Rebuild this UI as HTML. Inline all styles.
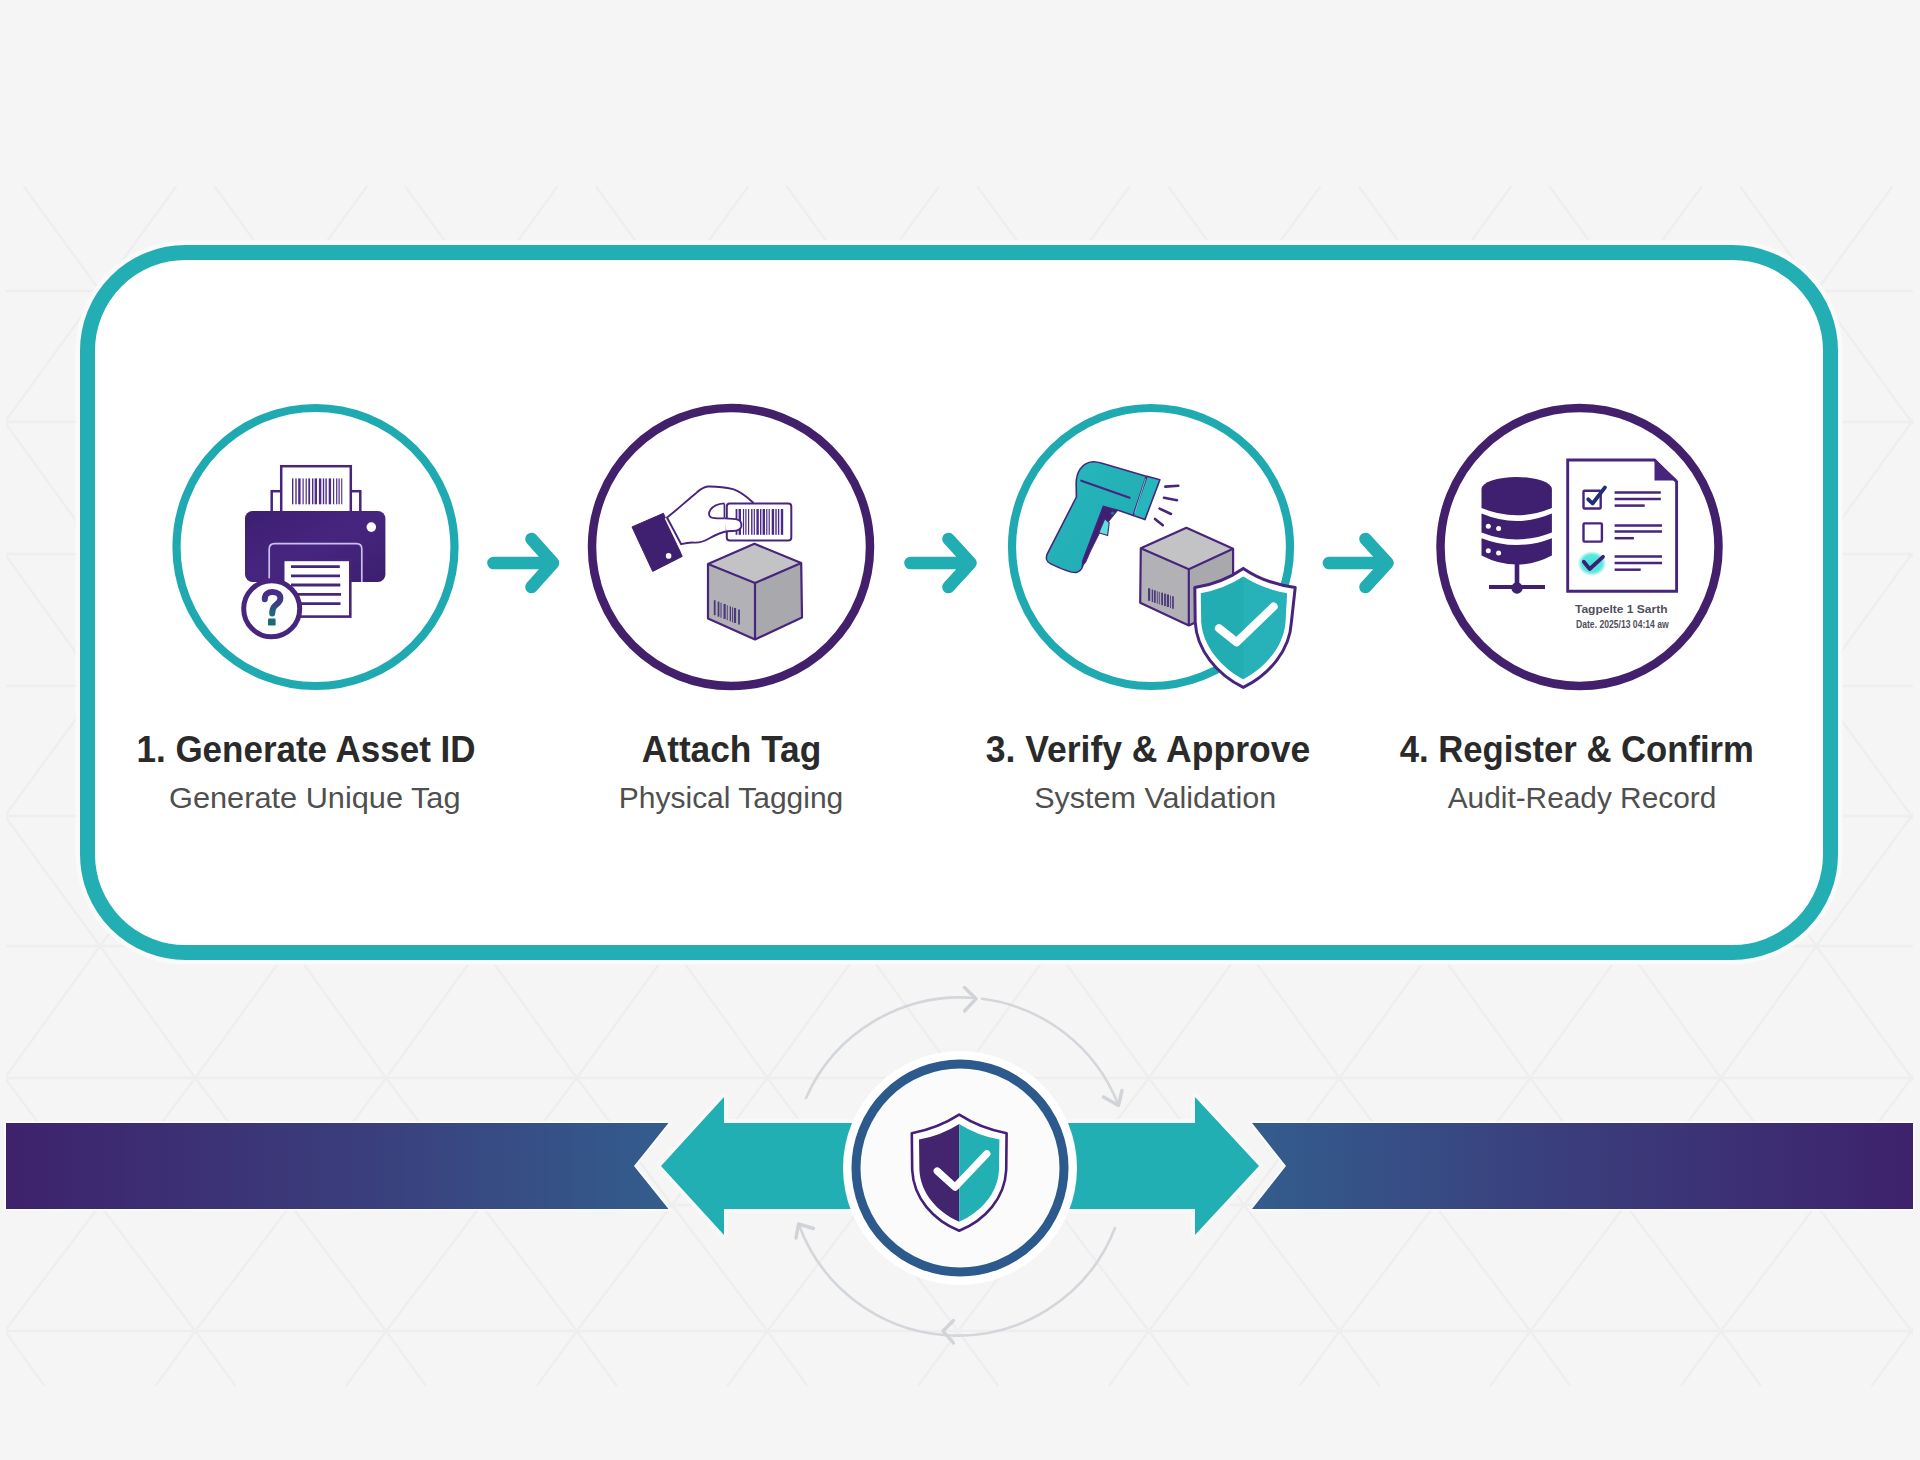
<!DOCTYPE html>
<html>
<head>
<meta charset="utf-8">
<style>
html,body{margin:0;padding:0;}
body{width:1920px;height:1460px;background:#f5f5f5;overflow:hidden;position:relative;font-family:"Liberation Sans",sans-serif;}
svg{position:absolute;left:0;top:0;}
</style>
</head>
<body>
<svg width="1920" height="1460" viewBox="0 0 1920 1460">
<defs>
  <clipPath id="patclip"><rect x="0" y="186" width="1920" height="1199"/></clipPath>
  <linearGradient id="barL" x1="0" y1="0" x2="1" y2="0">
    <stop offset="0" stop-color="#3e226b"/>
    <stop offset="0.55" stop-color="#3a3f7c"/>
    <stop offset="1" stop-color="#335d8d"/>
  </linearGradient>
  <linearGradient id="barR" x1="0" y1="0" x2="1" y2="0">
    <stop offset="0" stop-color="#335d8d"/>
    <stop offset="0.45" stop-color="#3a3f7c"/>
    <stop offset="1" stop-color="#3e226b"/>
  </linearGradient>
</defs>

<!-- background triangle pattern -->
<defs><filter id="pblur" x="0" y="0" width="1" height="1"><feGaussianBlur stdDeviation="0.6"/></filter><clipPath id="pc1"><rect x="6" y="186" width="1907" height="368.5"/></clipPath><clipPath id="pc2"><rect x="6" y="554" width="1907" height="832"/></clipPath></defs><g fill="none" stroke="#eeeeee" stroke-width="2.4" filter="url(#pblur)"><path clip-path="url(#pc1)" d="M-472.1 291.0L-376.7 422.0 M-472.1 291.0L-567.4 422.0 M-281.4 291.0L-186.0 422.0 M-281.4 291.0L-376.8 422.0 M-90.7 291.0L4.7 422.0 M-90.7 291.0L-186.0 422.0 M100.0 291.0L195.3 422.0 M100.0 291.0L4.7 422.0 M290.7 291.0L386.0 422.0 M290.7 291.0L195.3 422.0 M481.4 291.0L576.8 422.0 M481.4 291.0L386.1 422.0 M672.1 291.0L767.4 422.0 M672.1 291.0L576.8 422.0 M862.8 291.0L958.1 422.0 M862.8 291.0L767.5 422.0 M1053.5 291.0L1148.8 422.0 M1053.5 291.0L958.1 422.0 M1244.2 291.0L1339.5 422.0 M1244.2 291.0L1148.8 422.0 M1434.9 291.0L1530.2 422.0 M1434.9 291.0L1339.5 422.0 M1625.6 291.0L1720.9 422.0 M1625.6 291.0L1530.2 422.0 M1816.3 291.0L1911.6 422.0 M1816.3 291.0L1720.9 422.0 M2007.0 291.0L2102.3 422.0 M2007.0 291.0L1911.6 422.0 M2197.7 291.0L2293.0 422.0 M2197.7 291.0L2102.3 422.0 M2388.4 291.0L2483.7 422.0 M2388.4 291.0L2293.0 422.0 M2579.1 291.0L2674.4 422.0 M2579.1 291.0L2483.8 422.0 M-376.7 422.0L-281.4 554.0 M-376.7 422.0L-472.1 554.0 M-186.0 422.0L-90.7 554.0 M-186.0 422.0L-281.4 554.0 M4.7 422.0L100.0 554.0 M4.7 422.0L-90.7 554.0 M195.3 422.0L290.7 554.0 M195.3 422.0L100.0 554.0 M386.0 422.0L481.4 554.0 M386.0 422.0L290.7 554.0 M576.8 422.0L672.1 554.0 M576.8 422.0L481.4 554.0 M767.4 422.0L862.8 554.0 M767.4 422.0L672.1 554.0 M958.1 422.0L1053.5 554.0 M958.1 422.0L862.8 554.0 M1148.8 422.0L1244.2 554.0 M1148.8 422.0L1053.5 554.0 M1339.5 422.0L1434.9 554.0 M1339.5 422.0L1244.2 554.0 M1530.2 422.0L1625.6 554.0 M1530.2 422.0L1434.9 554.0 M1720.9 422.0L1816.3 554.0 M1720.9 422.0L1625.6 554.0 M1911.6 422.0L2007.0 554.0 M1911.6 422.0L1816.3 554.0 M2102.3 422.0L2197.7 554.0 M2102.3 422.0L2007.0 554.0 M2293.0 422.0L2388.4 554.0 M2293.0 422.0L2197.7 554.0 M2483.7 422.0L2579.1 554.0 M2483.7 422.0L2388.4 554.0 M2674.4 422.0L2769.8 554.0 M2674.4 422.0L2579.1 554.0 M-472.1 291.0L-548.5 186.0 M-472.1 291.0L-395.7 186.0 M-281.4 291.0L-357.8 186.0 M-281.4 291.0L-205.0 186.0 M-90.7 291.0L-167.1 186.0 M-90.7 291.0L-14.3 186.0 M100.0 291.0L23.6 186.0 M100.0 291.0L176.4 186.0 M290.7 291.0L214.3 186.0 M290.7 291.0L367.1 186.0 M481.4 291.0L405.0 186.0 M481.4 291.0L557.8 186.0 M672.1 291.0L595.7 186.0 M672.1 291.0L748.5 186.0 M862.8 291.0L786.4 186.0 M862.8 291.0L939.2 186.0 M1053.5 291.0L977.1 186.0 M1053.5 291.0L1129.9 186.0 M1244.2 291.0L1167.8 186.0 M1244.2 291.0L1320.6 186.0 M1434.9 291.0L1358.5 186.0 M1434.9 291.0L1511.3 186.0 M1625.6 291.0L1549.2 186.0 M1625.6 291.0L1702.0 186.0 M1816.3 291.0L1739.9 186.0 M1816.3 291.0L1892.7 186.0 M2007.0 291.0L1930.6 186.0 M2007.0 291.0L2083.4 186.0 M2197.7 291.0L2121.3 186.0 M2197.7 291.0L2274.1 186.0 M2388.4 291.0L2312.0 186.0 M2388.4 291.0L2464.8 186.0 M2579.1 291.0L2502.7 186.0 M2579.1 291.0L2655.5 186.0"/><path clip-path="url(#pc2)" d="M-376.7 554.0L-281.4 686.0 M-376.7 554.0L-472.1 686.0 M-186.0 554.0L-90.7 686.0 M-186.0 554.0L-281.4 686.0 M4.7 554.0L100.0 686.0 M4.7 554.0L-90.7 686.0 M195.3 554.0L290.7 686.0 M195.3 554.0L100.0 686.0 M386.0 554.0L481.4 686.0 M386.0 554.0L290.7 686.0 M576.8 554.0L672.1 686.0 M576.8 554.0L481.4 686.0 M767.4 554.0L862.8 686.0 M767.4 554.0L672.1 686.0 M958.1 554.0L1053.5 686.0 M958.1 554.0L862.8 686.0 M1148.8 554.0L1244.2 686.0 M1148.8 554.0L1053.5 686.0 M1339.5 554.0L1434.9 686.0 M1339.5 554.0L1244.2 686.0 M1530.2 554.0L1625.6 686.0 M1530.2 554.0L1434.9 686.0 M1720.9 554.0L1816.3 686.0 M1720.9 554.0L1625.6 686.0 M1911.6 554.0L2007.0 686.0 M1911.6 554.0L1816.3 686.0 M2102.3 554.0L2197.7 686.0 M2102.3 554.0L2007.0 686.0 M2293.0 554.0L2388.4 686.0 M2293.0 554.0L2197.7 686.0 M2483.7 554.0L2579.1 686.0 M2483.7 554.0L2388.4 686.0 M2674.4 554.0L2769.8 686.0 M2674.4 554.0L2579.1 686.0 M-472.1 686.0L-376.7 816.0 M-472.1 686.0L-567.4 816.0 M-281.4 686.0L-186.0 816.0 M-281.4 686.0L-376.8 816.0 M-90.7 686.0L4.7 816.0 M-90.7 686.0L-186.0 816.0 M100.0 686.0L195.3 816.0 M100.0 686.0L4.7 816.0 M290.7 686.0L386.0 816.0 M290.7 686.0L195.3 816.0 M481.4 686.0L576.8 816.0 M481.4 686.0L386.1 816.0 M672.1 686.0L767.4 816.0 M672.1 686.0L576.8 816.0 M862.8 686.0L958.1 816.0 M862.8 686.0L767.5 816.0 M1053.5 686.0L1148.8 816.0 M1053.5 686.0L958.1 816.0 M1244.2 686.0L1339.5 816.0 M1244.2 686.0L1148.8 816.0 M1434.9 686.0L1530.2 816.0 M1434.9 686.0L1339.5 816.0 M1625.6 686.0L1720.9 816.0 M1625.6 686.0L1530.2 816.0 M1816.3 686.0L1911.6 816.0 M1816.3 686.0L1720.9 816.0 M2007.0 686.0L2102.3 816.0 M2007.0 686.0L1911.6 816.0 M2197.7 686.0L2293.0 816.0 M2197.7 686.0L2102.3 816.0 M2388.4 686.0L2483.7 816.0 M2388.4 686.0L2293.0 816.0 M2579.1 686.0L2674.4 816.0 M2579.1 686.0L2483.8 816.0 M-376.7 816.0L-281.4 946.0 M-376.7 816.0L-472.1 946.0 M-186.0 816.0L-90.7 946.0 M-186.0 816.0L-281.4 946.0 M4.7 816.0L100.0 946.0 M4.7 816.0L-90.7 946.0 M195.3 816.0L290.7 946.0 M195.3 816.0L100.0 946.0 M386.0 816.0L481.4 946.0 M386.0 816.0L290.7 946.0 M576.8 816.0L672.1 946.0 M576.8 816.0L481.4 946.0 M767.4 816.0L862.8 946.0 M767.4 816.0L672.1 946.0 M958.1 816.0L1053.5 946.0 M958.1 816.0L862.8 946.0 M1148.8 816.0L1244.2 946.0 M1148.8 816.0L1053.5 946.0 M1339.5 816.0L1434.9 946.0 M1339.5 816.0L1244.2 946.0 M1530.2 816.0L1625.6 946.0 M1530.2 816.0L1434.9 946.0 M1720.9 816.0L1816.3 946.0 M1720.9 816.0L1625.6 946.0 M1911.6 816.0L2007.0 946.0 M1911.6 816.0L1816.3 946.0 M2102.3 816.0L2197.7 946.0 M2102.3 816.0L2007.0 946.0 M2293.0 816.0L2388.4 946.0 M2293.0 816.0L2197.7 946.0 M2483.7 816.0L2579.1 946.0 M2483.7 816.0L2388.4 946.0 M2674.4 816.0L2769.8 946.0 M2674.4 816.0L2579.1 946.0 M-472.1 946.0L-376.7 1078.0 M-472.1 946.0L-567.4 1078.0 M-281.4 946.0L-186.0 1078.0 M-281.4 946.0L-376.8 1078.0 M-90.7 946.0L4.7 1078.0 M-90.7 946.0L-186.0 1078.0 M100.0 946.0L195.3 1078.0 M100.0 946.0L4.7 1078.0 M290.7 946.0L386.0 1078.0 M290.7 946.0L195.3 1078.0 M481.4 946.0L576.8 1078.0 M481.4 946.0L386.1 1078.0 M672.1 946.0L767.4 1078.0 M672.1 946.0L576.8 1078.0 M862.8 946.0L958.1 1078.0 M862.8 946.0L767.5 1078.0 M1053.5 946.0L1148.8 1078.0 M1053.5 946.0L958.1 1078.0 M1244.2 946.0L1339.5 1078.0 M1244.2 946.0L1148.8 1078.0 M1434.9 946.0L1530.2 1078.0 M1434.9 946.0L1339.5 1078.0 M1625.6 946.0L1720.9 1078.0 M1625.6 946.0L1530.2 1078.0 M1816.3 946.0L1911.6 1078.0 M1816.3 946.0L1720.9 1078.0 M2007.0 946.0L2102.3 1078.0 M2007.0 946.0L1911.6 1078.0 M2197.7 946.0L2293.0 1078.0 M2197.7 946.0L2102.3 1078.0 M2388.4 946.0L2483.7 1078.0 M2388.4 946.0L2293.0 1078.0 M2579.1 946.0L2674.4 1078.0 M2579.1 946.0L2483.8 1078.0 M-376.7 1078.0L-281.4 1205.0 M-376.7 1078.0L-472.1 1205.0 M-186.0 1078.0L-90.7 1205.0 M-186.0 1078.0L-281.4 1205.0 M4.7 1078.0L100.0 1205.0 M4.7 1078.0L-90.7 1205.0 M195.3 1078.0L290.7 1205.0 M195.3 1078.0L100.0 1205.0 M386.0 1078.0L481.4 1205.0 M386.0 1078.0L290.7 1205.0 M576.8 1078.0L672.1 1205.0 M576.8 1078.0L481.4 1205.0 M767.4 1078.0L862.8 1205.0 M767.4 1078.0L672.1 1205.0 M958.1 1078.0L1053.5 1205.0 M958.1 1078.0L862.8 1205.0 M1148.8 1078.0L1244.2 1205.0 M1148.8 1078.0L1053.5 1205.0 M1339.5 1078.0L1434.9 1205.0 M1339.5 1078.0L1244.2 1205.0 M1530.2 1078.0L1625.6 1205.0 M1530.2 1078.0L1434.9 1205.0 M1720.9 1078.0L1816.3 1205.0 M1720.9 1078.0L1625.6 1205.0 M1911.6 1078.0L2007.0 1205.0 M1911.6 1078.0L1816.3 1205.0 M2102.3 1078.0L2197.7 1205.0 M2102.3 1078.0L2007.0 1205.0 M2293.0 1078.0L2388.4 1205.0 M2293.0 1078.0L2197.7 1205.0 M2483.7 1078.0L2579.1 1205.0 M2483.7 1078.0L2388.4 1205.0 M2674.4 1078.0L2769.8 1205.0 M2674.4 1078.0L2579.1 1205.0 M-472.1 1205.0L-376.7 1331.0 M-472.1 1205.0L-567.4 1331.0 M-281.4 1205.0L-186.0 1331.0 M-281.4 1205.0L-376.8 1331.0 M-90.7 1205.0L4.7 1331.0 M-90.7 1205.0L-186.0 1331.0 M100.0 1205.0L195.3 1331.0 M100.0 1205.0L4.7 1331.0 M290.7 1205.0L386.0 1331.0 M290.7 1205.0L195.3 1331.0 M481.4 1205.0L576.8 1331.0 M481.4 1205.0L386.1 1331.0 M672.1 1205.0L767.4 1331.0 M672.1 1205.0L576.8 1331.0 M862.8 1205.0L958.1 1331.0 M862.8 1205.0L767.5 1331.0 M1053.5 1205.0L1148.8 1331.0 M1053.5 1205.0L958.1 1331.0 M1244.2 1205.0L1339.5 1331.0 M1244.2 1205.0L1148.8 1331.0 M1434.9 1205.0L1530.2 1331.0 M1434.9 1205.0L1339.5 1331.0 M1625.6 1205.0L1720.9 1331.0 M1625.6 1205.0L1530.2 1331.0 M1816.3 1205.0L1911.6 1331.0 M1816.3 1205.0L1720.9 1331.0 M2007.0 1205.0L2102.3 1331.0 M2007.0 1205.0L1911.6 1331.0 M2197.7 1205.0L2293.0 1331.0 M2197.7 1205.0L2102.3 1331.0 M2388.4 1205.0L2483.7 1331.0 M2388.4 1205.0L2293.0 1331.0 M2579.1 1205.0L2674.4 1331.0 M2579.1 1205.0L2483.8 1331.0 M-376.7 1331.0L-416.8 1386.0 M-376.7 1331.0L-336.7 1386.0 M-186.0 1331.0L-226.1 1386.0 M-186.0 1331.0L-146.0 1386.0 M4.7 1331.0L-35.4 1386.0 M4.7 1331.0L44.7 1386.0 M195.3 1331.0L155.3 1386.0 M195.3 1331.0L235.4 1386.0 M386.0 1331.0L346.0 1386.0 M386.0 1331.0L426.1 1386.0 M576.8 1331.0L536.7 1386.0 M576.8 1331.0L616.8 1386.0 M767.4 1331.0L727.4 1386.0 M767.4 1331.0L807.5 1386.0 M958.1 1331.0L918.1 1386.0 M958.1 1331.0L998.2 1386.0 M1148.8 1331.0L1108.8 1386.0 M1148.8 1331.0L1188.9 1386.0 M1339.5 1331.0L1299.5 1386.0 M1339.5 1331.0L1379.6 1386.0 M1530.2 1331.0L1490.2 1386.0 M1530.2 1331.0L1570.3 1386.0 M1720.9 1331.0L1680.9 1386.0 M1720.9 1331.0L1761.0 1386.0 M1911.6 1331.0L1871.6 1386.0 M1911.6 1331.0L1951.7 1386.0 M2102.3 1331.0L2062.3 1386.0 M2102.3 1331.0L2142.4 1386.0 M2293.0 1331.0L2253.0 1386.0 M2293.0 1331.0L2333.1 1386.0 M2483.7 1331.0L2443.7 1386.0 M2483.7 1331.0L2523.8 1386.0 M2674.4 1331.0L2634.4 1386.0 M2674.4 1331.0L2714.5 1386.0"/><path d="M6 291H1913 M6 422H1913 M6 554H1913 M6 686H1913 M6 816H1913 M6 946H1913 M6 1078H1913 M6 1205H1913 M6 1331H1913"/></g>

<!-- main card -->
<rect x="87.5" y="252.5" width="1743" height="700" rx="98" ry="98" fill="#ffffff" stroke="#fafafa" stroke-width="24"/>
<rect x="87.5" y="252.5" width="1743" height="700" rx="98" ry="98" fill="#ffffff" stroke="#23aeb4" stroke-width="15"/>

<!-- step circles -->
<circle cx="315.5" cy="547" r="139" fill="#fff" stroke="#1fa9b1" stroke-width="8.2"/>
<circle cx="731" cy="547" r="139" fill="#fff" stroke="#43206c" stroke-width="8.5"/>
<circle cx="1151" cy="547" r="139" fill="#fff" stroke="#1fa9b1" stroke-width="8.2"/>
<circle cx="1579.5" cy="547" r="139" fill="#fff" stroke="#43206c" stroke-width="8.5"/>

<!-- arrows between steps -->
<g stroke="#22adb3" stroke-width="12.6" stroke-linecap="round" stroke-linejoin="round" fill="none">
  <path d="M493.5 563 H552 M531.5 539 L553 563 L531.5 587"/>
  <path d="M910.5 563 H970 M948.5 539 L970.5 563 L948.5 587"/>
  <path d="M1329 563 H1387 M1365.5 539 L1387.5 563 L1365.5 587"/>
</g>

<g id="ic1"><rect x="271.7" y="491.2" width="88.6" height="24" fill="#fff" stroke="#47257d" stroke-width="2.5"/><rect x="281.2" y="466.2" width="69.6" height="50" fill="#fff" stroke="#47257d" stroke-width="2.5"/><g fill="#4d2d88"><rect x="292.00" y="478.40" width="1.40" height="25.90"/><rect x="295.30" y="478.40" width="1.40" height="25.90"/><rect x="298.20" y="478.40" width="2.40" height="25.90"/><rect x="302.50" y="478.40" width="1.20" height="25.90"/><rect x="305.60" y="478.40" width="1.20" height="25.90"/><rect x="308.30" y="478.40" width="1.80" height="25.90"/><rect x="312.00" y="478.40" width="1.40" height="25.90"/><rect x="314.60" y="478.40" width="2.40" height="25.90"/><rect x="318.90" y="478.40" width="2.40" height="25.90"/><rect x="322.80" y="478.40" width="1.40" height="25.90"/><rect x="325.40" y="478.40" width="1.40" height="25.90"/><rect x="328.70" y="478.40" width="2.40" height="25.90"/><rect x="333.00" y="478.40" width="1.20" height="25.90"/><rect x="336.10" y="478.40" width="1.20" height="25.90"/><rect x="338.50" y="478.40" width="1.20" height="25.90"/><rect x="341.20" y="478.40" width="1.10" height="25.90"/></g><defs><linearGradient id="pg" x1="0" y1="0" x2="1" y2="1"><stop offset="0" stop-color="#3c1f70"/><stop offset="0.5" stop-color="#46257f"/><stop offset="1" stop-color="#3b1f6e"/></linearGradient></defs><rect x="245" y="511" width="140.4" height="71" rx="7.5" fill="url(#pg)"/><circle cx="371.3" cy="527.1" r="4.8" fill="#fff"/><path d="M269.2 582 V549 Q269.2 543.6 274.6 543.6 H356.4 Q361.8 543.6 361.8 549 V582" fill="none" stroke="#cbbfee" stroke-width="1.7"/><rect x="283.2" y="559.9" width="67.1" height="56.7" fill="#fff" stroke="#47257d" stroke-width="2.6"/><line x1="291" y1="566.6" x2="339.8" y2="566.6" stroke="#47257d" stroke-width="2.8"/><line x1="291" y1="575.8" x2="340" y2="575.8" stroke="#47257d" stroke-width="2.8"/><line x1="291" y1="585" x2="340.3" y2="585" stroke="#47257d" stroke-width="2.8"/><line x1="291" y1="594.3" x2="341" y2="594.3" stroke="#47257d" stroke-width="2.8"/><line x1="291" y1="603.6" x2="340.5" y2="603.6" stroke="#47257d" stroke-width="2.8"/><circle cx="271.7" cy="608.8" r="28" fill="#fff" stroke="#47257d" stroke-width="5"/><defs><linearGradient id="qg" x1="0" y1="0" x2="0" y2="1"><stop offset="0" stop-color="#4a2a86"/><stop offset="0.55" stop-color="#3c3f86"/><stop offset="1" stop-color="#1e6c78"/></linearGradient></defs><path d="M264.8 599.2 C264.6 594.2 268 591.9 272.6 591.9 C277.6 591.9 280.4 594.6 280.4 598.3 C280.4 602.2 277 604 274.8 605.9 C272.8 607.7 272.2 609.6 272.2 613.6" fill="none" stroke="url(#qg)" stroke-width="6" stroke-linecap="round" stroke-linejoin="round"/><rect x="268" y="618.6" width="7.6" height="7" rx="1.2" fill="#1d6a75"/></g><g id="ic2"><polygon points="632,526.9 663.4,513.3 682.2,556.4 652.7,571.4" fill="#3f1f6f" stroke="#3f1f6f" stroke-width="1" stroke-linejoin="round"/><line x1="665.3" y1="518.2" x2="680" y2="548.5" stroke="#fff" stroke-width="1.3"/><circle cx="668.6" cy="555.9" r="2.8" fill="#fff"/><path d="M667 517.5 C675 511.5 687 500.5 696 493.2 C700 489.6 703 486.6 708 486.5 C716 486.4 726 487.4 733 489.2 C740 491.2 747 497 753 502.5 L753 522 L741 527 C738 530.5 733 531 728 531.2 C722 532 716 534.5 710 538 C705 541 700 543 694 542.6 C689 542.2 685 543.2 681.2 544.2 Z" fill="#fff" stroke="#47257d" stroke-width="1.9" stroke-linejoin="round"/><rect x="726.8" y="503.5" width="64.5" height="37" rx="3" fill="#fff" stroke="#47257d" stroke-width="2"/><g fill="#4a2a86"><rect x="735.60" y="509.00" width="1.80" height="25.80"/><rect x="738.60" y="509.00" width="2.40" height="25.80"/><rect x="742.90" y="509.00" width="1.20" height="25.80"/><rect x="745.30" y="509.00" width="1.20" height="25.80"/><rect x="748.00" y="509.00" width="1.20" height="25.80"/><rect x="751.10" y="509.00" width="1.40" height="25.80"/><rect x="753.70" y="509.00" width="1.20" height="25.80"/><rect x="756.40" y="509.00" width="2.40" height="25.80"/><rect x="760.00" y="509.00" width="1.40" height="25.80"/><rect x="762.60" y="509.00" width="2.40" height="25.80"/><rect x="766.20" y="509.00" width="1.20" height="25.80"/><rect x="768.60" y="509.00" width="1.20" height="25.80"/><rect x="771.70" y="509.00" width="2.40" height="25.80"/><rect x="775.30" y="509.00" width="1.40" height="25.80"/><rect x="777.90" y="509.00" width="1.40" height="25.80"/><rect x="780.80" y="509.00" width="2.40" height="25.80"/></g><path d="M724.4 518.4 C729 518.6 734 518.8 737.5 519.6 C740.5 520.6 741.8 523.5 741.3 526.5 C740.6 529.6 737 530.8 733 531 L726.5 531.2" fill="#fff" stroke="#47257d" stroke-width="1.9" stroke-linejoin="round"/><path d="M724.4 503.4 C718 503.8 713 506 710.5 509.8 C708.6 512.6 708.4 515.6 710.8 517.2 C713 518.6 719 518.4 724.4 518.4" fill="#fff" stroke="#47257d" stroke-width="1.9" stroke-linejoin="round"/><line x1="724.4" y1="503.6" x2="724.4" y2="518.2" stroke="#47257d" stroke-width="1.6"/><polygon points="708,564 754.4,543.8 801.2,563 755,583" fill="#c3c3c6"/><polygon points="708,564 755,583 755,639.5 708,618.5" fill="#b2b1b6"/><polygon points="755,583 801.2,563 802,617.5 755,639.5" fill="#a8a8ad"/><g fill="#4b3a7a"><rect x="713.80" y="600.20" width="1.80" height="15.00"/><rect x="717.60" y="601.66" width="1.80" height="15.00"/><rect x="720.50" y="602.78" width="1.00" height="15.00"/><rect x="723.50" y="603.93" width="2.20" height="15.00"/><rect x="726.80" y="605.21" width="0.90" height="15.00"/><rect x="729.70" y="606.32" width="1.30" height="15.00"/><rect x="732.10" y="607.25" width="0.90" height="15.00"/><rect x="733.90" y="607.94" width="2.20" height="15.00"/><rect x="738.10" y="609.56" width="1.80" height="15.00"/></g><path d="M708 564 L754.4 543.8 L801.2 563 L802 617.5 L755 639.5 L708 618.5 Z M708 564 L755 583 L801.2 563 M755 583 L755 639.5" fill="none" stroke="#47257d" stroke-width="2.2" stroke-linejoin="round"/></g><g id="ic3"><defs><linearGradient id="sg" x1="0" y1="0" x2="1" y2="1"><stop offset="0" stop-color="#27b8bd"/><stop offset="1" stop-color="#1fa9b0"/></linearGradient></defs><path d="M1076.2 486 C1075.6 472 1082 462.5 1093 461.8 C1096 461.6 1099 462.4 1102 463.3 L1146.2 476.3 L1133.3 515.4 L1119.6 510.8 L1103.4 506.4 L1082.6 561.5 C1083.6 566 1081.8 570.5 1077 572.3 C1072 573.6 1056 566.4 1050.3 563.6 C1046.2 561.6 1045.6 557.4 1047.4 553.6 L1076.4 497 Z" fill="url(#sg)" stroke="#47257d" stroke-width="1.6" stroke-linejoin="round"/><path d="M1103.4 506.4 L1117.5 510.6 L1109 521 L1099 534 L1091 550 L1085.5 562.5 L1082 566.5 L1082.6 561.5 Z" fill="#3f1f6f" stroke="#47257d" stroke-width="1" stroke-linejoin="round"/><path d="M1104.8 518.8 L1109.2 522.6 L1107.6 535.6 L1098.8 532.8 Z" fill="#5fe0d8" stroke="#47257d" stroke-width="1.1" stroke-linejoin="round"/><circle cx="1112.6" cy="513.2" r="1.8" fill="#2c6b9a"/><path d="M1147 476.2 L1159.9 479.8 L1144.9 519.6 L1133.3 515.4 Z" fill="#26b7bc" stroke="#47257d" stroke-width="1.6" stroke-linejoin="round"/><line x1="1145.6" y1="478.5" x2="1134.6" y2="513.5" stroke="#8fe3df" stroke-width="0.8"/><line x1="1081.3" y1="480.7" x2="1129.6" y2="497.7" stroke="#47257d" stroke-width="2.2" stroke-linecap="round"/><line x1="1165.3" y1="486.6" x2="1178.3" y2="485.8" stroke="#47257d" stroke-width="2.6" stroke-linecap="round"/><line x1="1164" y1="497.8" x2="1177" y2="500.2" stroke="#47257d" stroke-width="2.6" stroke-linecap="round"/><line x1="1159.6" y1="508.6" x2="1171" y2="514" stroke="#47257d" stroke-width="2.6" stroke-linecap="round"/><line x1="1155" y1="519" x2="1162.8" y2="525.2" stroke="#47257d" stroke-width="2.6" stroke-linecap="round"/><polygon points="1140.8,548.2 1186.4,527.8 1233.1,548.8 1188.8,569.2" fill="#c3c3c6"/><polygon points="1140.8,548.2 1188.8,569.2 1188.8,625.5 1140.2,602.7" fill="#b2b1b6"/><polygon points="1188.8,569.2 1233.1,548.8 1233.1,605 1188.8,625.5" fill="#a8a8ad"/><g fill="#4b3a7a"><rect x="1148.00" y="588.30" width="2.20" height="12.50"/><rect x="1151.70" y="589.52" width="1.30" height="12.50"/><rect x="1153.90" y="590.25" width="1.80" height="12.50"/><rect x="1156.80" y="591.20" width="0.90" height="12.50"/><rect x="1158.80" y="591.86" width="0.90" height="12.50"/><rect x="1161.20" y="592.66" width="1.80" height="12.50"/><rect x="1164.10" y="593.61" width="1.80" height="12.50"/><rect x="1166.80" y="594.50" width="2.20" height="12.50"/><rect x="1170.10" y="595.59" width="0.90" height="12.50"/><rect x="1172.10" y="596.25" width="1.70" height="12.50"/></g><path d="M1140.8 548.2 L1186.4 527.8 L1233.1 548.8 L1233.1 605 L1188.8 625.5 L1140.2 602.7 Z M1140.8 548.2 L1188.8 569.2 L1233.1 548.8 M1188.8 569.2 L1188.8 625.5" fill="none" stroke="#47257d" stroke-width="2.2" stroke-linejoin="round"/><path d="M1243.3 568.4 Q1222 583.2 1194.8 587.6 L1195.2 622 C1196.6 650 1217 674.5 1243.3 687.4 C1269.6 674.5 1290 650 1291.4 622 L1295.2 587.6 Q1264.6 583.2 1243.3 568.4 Z" fill="#fff" stroke="#47257d" stroke-width="3" stroke-linejoin="round"/><path d="M1243.3 576.6 Q1224 589.2 1200.8 593.2 L1201.2 622 C1202.8 646 1221 667.5 1243.3 679.3 C1265.6 667.5 1283.8 646 1285.4 622 L1287 593.2 Q1262.6 589.2 1243.3 576.6 Z" fill="#22adb3"/><path d="M1243.3 576.6 Q1262.6 589.2 1287 593.2 L1285.4 622 C1283.8 646 1265.6 667.5 1243.3 679.3 Z" fill="#29b6bb" opacity="0.6"/><path d="M1219 628.3 L1236.6 642.2 L1273.6 606.6" fill="none" stroke="#fff" stroke-width="8.2" stroke-linecap="round" stroke-linejoin="round"/></g><g id="ic4"><path d="M1481.5 489 A35.2 12 0 0 1 1551.9 489 L1551.9 508 Q1516.7 522.6 1481.5 508 Z" fill="#3f1f6f"/><path d="M1481.5 513.6 Q1516.7 528.4 1551.9 513.6 L1551.9 532.5 Q1516.7 546.3 1481.5 532.5 Z" fill="#3f1f6f"/><path d="M1481.5 538.2 Q1516.7 552 1551.9 538.2 L1551.9 555.4 Q1516.7 573.8 1481.5 555.4 Z" fill="#3f1f6f"/><circle cx="1488.3" cy="526.2" r="2.5" fill="#fff"/><circle cx="1498.6" cy="528.5" r="2.5" fill="#fff"/><circle cx="1488.3" cy="550.8" r="2.5" fill="#fff"/><circle cx="1498.6" cy="553.1" r="2.5" fill="#fff"/><line x1="1517" y1="562" x2="1517" y2="588" stroke="#3f1f6f" stroke-width="4.6"/><line x1="1489" y1="587" x2="1545" y2="587" stroke="#3f1f6f" stroke-width="4"/><circle cx="1517" cy="588" r="5.7" fill="#3f1f6f"/><path d="M1567.7 460 H1654.5 L1676.6 481.8 V591.3 H1567.7 Z" fill="#fff" stroke="#47257d" stroke-width="2.9" stroke-linejoin="miter"/><polygon points="1654.5,459 1654.5,480.4 1677.8,480.4" fill="#47257d"/><rect x="1583.5" y="490.7" width="17.2" height="17.8" rx="1" fill="#fff" stroke="#47257d" stroke-width="2.4"/><path d="M1588.2 499.3 L1592.6 503.5 L1605 487.4" fill="none" stroke="#222e78" stroke-width="3.8" stroke-linecap="round" stroke-linejoin="round"/><rect x="1583.5" y="523.4" width="18.4" height="18.2" rx="1" fill="#fff" stroke="#47257d" stroke-width="2.4"/><defs><radialGradient id="glow" cx="0.5" cy="0.5" r="0.5"><stop offset="0" stop-color="#3fe3da" stop-opacity="1"/><stop offset="0.7" stop-color="#3fe3da" stop-opacity="0.85"/><stop offset="1" stop-color="#3fe3da" stop-opacity="0"/></radialGradient></defs><ellipse cx="1592" cy="563.5" rx="14.5" ry="12.5" fill="url(#glow)"/><path d="M1583.8 561.8 L1589.7 569 L1603 556.8" fill="none" stroke="#3f1f6f" stroke-width="3.8" stroke-linecap="round" stroke-linejoin="round"/><line x1="1614.6" y1="492.6" x2="1660.8" y2="492.6" stroke="#47257d" stroke-width="2.5"/><line x1="1614.6" y1="499" x2="1660.8" y2="499" stroke="#47257d" stroke-width="2.5"/><line x1="1614.6" y1="505.6" x2="1644.7" y2="505.6" stroke="#47257d" stroke-width="2.5"/><line x1="1614.6" y1="525.6" x2="1662" y2="525.6" stroke="#47257d" stroke-width="2.5"/><line x1="1614.6" y1="531.6" x2="1662" y2="531.6" stroke="#47257d" stroke-width="2.5"/><line x1="1614.6" y1="538.2" x2="1633.9" y2="538.2" stroke="#47257d" stroke-width="2.5"/><line x1="1614.6" y1="556.6" x2="1662" y2="556.6" stroke="#47257d" stroke-width="2.5"/><line x1="1614.6" y1="562.9" x2="1662" y2="562.9" stroke="#47257d" stroke-width="2.5"/><line x1="1614.6" y1="569.7" x2="1640.7" y2="569.7" stroke="#47257d" stroke-width="2.5"/><g font-family="Liberation Sans, sans-serif" font-weight="bold" font-size="10.5" fill="#50505c"><text x="1575" y="613.4" textLength="92.5" lengthAdjust="spacingAndGlyphs">Tagpelte 1 Sarth</text><text x="1576" y="627.5" textLength="92.7" lengthAdjust="spacingAndGlyphs">Date. 2025/13 04:14 aw</text></g></g>

<!-- bottom band -->
<g fill="#f8f8f8" stroke="#f8f8f8" stroke-width="8" stroke-linejoin="round">
<polygon points="661,1166 724,1097 724,1123 860,1123 860,1209 724,1209 724,1235"/>
<polygon points="1259,1166 1195,1097 1195,1123 1060,1123 1060,1209 1195,1209 1195,1235"/>
</g>
<polygon points="6,1123 668.5,1123 634,1166 668.5,1209 6,1209" fill="url(#barL)" stroke="#fdfdfd" stroke-width="3.5" stroke-linejoin="miter" paint-order="stroke"/>
<polygon points="1913,1123 1252,1123 1286,1166 1252,1209 1913,1209" fill="url(#barR)" stroke="#fdfdfd" stroke-width="3.5" stroke-linejoin="miter" paint-order="stroke"/>
<polygon points="661,1166 724,1097 724,1123 860,1123 860,1209 724,1209 724,1235" fill="#21afb4"/>
<polygon points="1259,1166 1195,1097 1195,1123 1060,1123 1060,1209 1195,1209 1195,1235" fill="#21afb4"/>

<!-- gray circular arrows -->
<g stroke="#d3d6da" stroke-width="2.6" fill="none" stroke-linecap="round" stroke-linejoin="round">
  <path d="M806 1098 A169 169 0 0 1 975 998"/>
  <path d="M982 998.8 A169 169 0 0 1 1118 1104"/>
  <path d="M1115 1228 A169 169 0 0 1 944 1335"/>
  <path d="M944 1335 A169 169 0 0 1 799 1225"/>
</g>
<g stroke="#d0d3d8" stroke-width="3.4" fill="none" stroke-linecap="round" stroke-linejoin="round">
  <path d="M964.5 987.5 L976 998.8 L964.5 1011"/>
  <path d="M1103.5 1097 L1118.5 1105.5 L1122 1090.5"/>
  <path d="M953.5 1320.5 L943 1331 L953.5 1343"/>
  <path d="M796 1238 L798.5 1224 L813.5 1228.5"/>
</g>

<!-- center circle -->
<circle cx="960" cy="1168" r="117" fill="#ffffff"/>
<circle cx="960" cy="1168" r="104" fill="#fbfbfb" stroke="#2c5a8c" stroke-width="9"/>
<g id="cshield"><path d="M959.2 1114.6 Q938 1128.2 911.8 1133.2 L912.2 1170 C913.5 1198 933 1220 959.2 1230.8 C985.4 1220 1004.9 1198 1006.2 1170 L1006.6 1133.2 Q980.4 1128.2 959.2 1114.6 Z" fill="#fff" stroke="#44207a" stroke-width="2.6" stroke-linejoin="round"/><path d="M959.2 1124 Q941 1135.6 919 1139.6 L919.4 1170 C920.6 1193 937 1212 959.2 1221.8 Z" fill="#42246f"/><path d="M959.2 1124 Q977.4 1135.6 999.4 1139.6 L999 1170 C997.8 1193 981.4 1212 959.2 1221.8 Z" fill="#22b0b5"/><path d="M937.2 1171 L955 1187.2 L986.8 1153.8" fill="none" stroke="#fff" stroke-width="7.2" stroke-linecap="round" stroke-linejoin="round"/></g>


<!-- labels -->
<g font-family="Liberation Sans, sans-serif" fill="#2a2a2a" font-weight="bold" font-size="36">
  <text x="136.5" y="761.5" textLength="339" lengthAdjust="spacingAndGlyphs">1. Generate Asset ID</text>
  <text x="641.7" y="761.5" textLength="179.5" lengthAdjust="spacingAndGlyphs">Attach Tag</text>
  <text x="985.7" y="761.5" textLength="324.5" lengthAdjust="spacingAndGlyphs">3. Verify &amp; Approve</text>
  <text x="1399.8" y="761.5" textLength="354" lengthAdjust="spacingAndGlyphs">4. Register &amp; Confirm</text>
</g>
<g font-family="Liberation Sans, sans-serif" fill="#4f4f4f" font-size="30">
  <text x="169" y="807.8" textLength="291.5" lengthAdjust="spacingAndGlyphs">Generate Unique Tag</text>
  <text x="618.8" y="807.8" textLength="224.5" lengthAdjust="spacingAndGlyphs">Physical Tagging</text>
  <text x="1034.2" y="807.8" textLength="242" lengthAdjust="spacingAndGlyphs">System Validation</text>
  <text x="1447.7" y="807.8" textLength="268.6" lengthAdjust="spacingAndGlyphs">Audit-Ready Record</text>
</g>
</svg>
</body>
</html>
